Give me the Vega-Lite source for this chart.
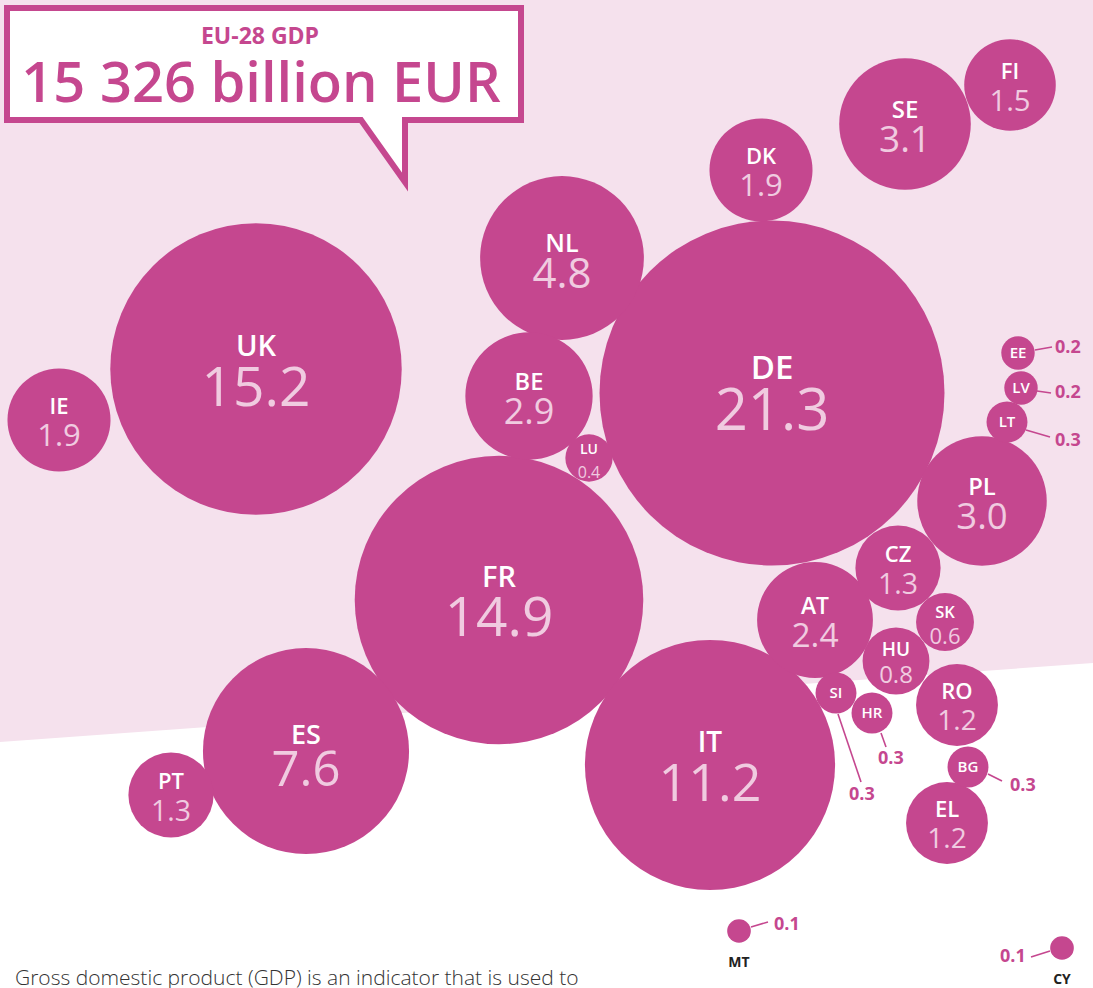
{
  "$schema": "https://vega.github.io/schema/vega-lite/v6.json",
  "width": 1093,
  "height": 988,
  "autosize": "none",
  "padding": 0,
  "background": "white",
  "config": {"view": {"stroke": null}, "font": "Open Sans"},
  "datasets": {
    "countries": [
      {"code": "DE", "value": 21.3, "x": 772, "y": 393},
      {"code": "UK", "value": 15.2, "x": 256, "y": 369},
      {"code": "FR", "value": 14.9, "x": 499, "y": 600},
      {"code": "IT", "value": 11.2, "x": 710, "y": 765},
      {"code": "ES", "value": 7.6, "x": 306, "y": 751},
      {"code": "NL", "value": 4.8, "x": 562, "y": 258},
      {"code": "SE", "value": 3.1, "x": 905, "y": 124},
      {"code": "PL", "value": 3.0, "x": 982, "y": 501},
      {"code": "BE", "value": 2.9, "x": 529, "y": 396},
      {"code": "AT", "value": 2.4, "x": 815, "y": 620},
      {"code": "IE", "value": 1.9, "x": 59, "y": 420},
      {"code": "DK", "value": 1.9, "x": 761, "y": 170},
      {"code": "FI", "value": 1.5, "x": 1010, "y": 85},
      {"code": "CZ", "value": 1.3, "x": 898, "y": 568},
      {"code": "PT", "value": 1.3, "x": 171, "y": 795},
      {"code": "RO", "value": 1.2, "x": 957, "y": 705},
      {"code": "EL", "value": 1.2, "x": 947, "y": 823},
      {"code": "HU", "value": 0.8, "x": 896, "y": 661},
      {"code": "SK", "value": 0.6, "x": 945, "y": 622},
      {"code": "LU", "value": 0.4, "x": 589, "y": 458},
      {"code": "LT", "value": 0.3, "x": 1007, "y": 422},
      {"code": "SI", "value": 0.3, "x": 836, "y": 693},
      {"code": "HR", "value": 0.3, "x": 872, "y": 713},
      {"code": "BG", "value": 0.3, "x": 968, "y": 767},
      {"code": "EE", "value": 0.2, "x": 1018, "y": 353},
      {"code": "LV", "value": 0.2, "x": 1021, "y": 388},
      {"code": "MT", "value": 0.1, "x": 739, "y": 931},
      {"code": "CY", "value": 0.1, "x": 1062, "y": 948}
    ],
    "leaders": [
      {"code": "EE", "value": 0.2, "x1": 1035, "y1": 350, "x2": 1052, "y2": 347, "lx": 1055, "ly": 348},
      {"code": "LV", "value": 0.2, "x1": 1037, "y1": 391, "x2": 1051, "y2": 393, "lx": 1055, "ly": 393},
      {"code": "LT", "value": 0.3, "x1": 1026, "y1": 430, "x2": 1050, "y2": 437, "lx": 1055, "ly": 441},
      {"code": "SI", "value": 0.3, "x1": 838, "y1": 714, "x2": 861, "y2": 782, "lx": 849, "ly": 795},
      {"code": "HR", "value": 0.3, "x1": 881, "y1": 733, "x2": 886, "y2": 747, "lx": 878, "ly": 759},
      {"code": "BG", "value": 0.3, "x1": 988, "y1": 774, "x2": 1002, "y2": 781, "lx": 1010, "ly": 786},
      {"code": "MT", "value": 0.1, "x1": 751, "y1": 927, "x2": 768, "y2": 922, "lx": 774, "ly": 925},
      {"code": "CY", "value": 0.1, "x1": 1050, "y1": 951, "x2": 1031, "y2": 957, "lx": 1000, "ly": 957}
    ]
  },
  "layer": [
    {
      "data": {"values": [{"x": 0, "y": 742}, {"x": 1093, "y": 663}]},
      "mark": {"type": "area", "color": "#f5e1ed", "opacity": 1},
      "encoding": {
        "x": {"field": "x", "type": "quantitative", "scale": {"domain": [0, 1093], "nice": false, "zero": false}, "axis": null},
        "y": {"field": "y", "type": "quantitative", "scale": {"domain": [0, 988], "nice": false, "zero": false, "reverse": true}, "axis": null},
        "y2": {"datum": 0}
      }
    },
    {
      "data": {"values": [
        {"o": 1, "x": 7, "y": 8},
        {"o": 2, "x": 521, "y": 8},
        {"o": 3, "x": 521, "y": 120},
        {"o": 4, "x": 405, "y": 120},
        {"o": 5, "x": 405, "y": 182},
        {"o": 6, "x": 361, "y": 120},
        {"o": 7, "x": 7, "y": 120},
        {"o": 8, "x": 7, "y": 8}
      ]},
      "mark": {"type": "line", "fill": "white", "stroke": "#c5478f", "strokeWidth": 6, "strokeJoin": "miter", "strokeCap": "square"},
      "encoding": {
        "x": {"field": "x", "type": "quantitative", "axis": null},
        "y": {"field": "y", "type": "quantitative", "axis": null},
        "order": {"field": "o", "type": "quantitative"}
      }
    },
    {
      "data": {"values": [{"x": 260, "y": 44, "t": "EU-28 GDP"}]},
      "mark": {"type": "text", "font": "Open Sans", "fontWeight": 700, "fontSize": 23, "color": "#c5478f", "align": "center", "baseline": "alphabetic"},
      "encoding": {
        "x": {"field": "x", "type": "quantitative", "axis": null},
        "y": {"field": "y", "type": "quantitative", "axis": null},
        "text": {"field": "t"}
      }
    },
    {
      "data": {"values": [{"x": 261, "y": 102, "t": "15 326 billion EUR"}]},
      "mark": {"type": "text", "font": "Open Sans", "fontWeight": 600, "fontSize": 56, "color": "#c5478f", "align": "center", "baseline": "alphabetic"},
      "encoding": {
        "x": {"field": "x", "type": "quantitative", "axis": null},
        "y": {"field": "y", "type": "quantitative", "axis": null},
        "text": {"field": "t"}
      }
    },
    {
      "data": {"name": "countries"},
      "mark": {"type": "point", "shape": "circle", "filled": true, "opacity": 1, "color": "#c5478f", "strokeWidth": 0},
      "encoding": {
        "x": {"field": "x", "type": "quantitative", "axis": null},
        "y": {"field": "y", "type": "quantitative", "axis": null},
        "size": {"field": "value", "type": "quantitative", "scale": {"type": "linear", "domain": [0, 21.3], "range": [0, 119025], "zero": true}, "legend": null}
      }
    },
    {
      "data": {"name": "countries"},
      "transform": [{"filter": "datum.value >= 11"}],
      "mark": {"type": "text", "font": "Open Sans", "fontWeight": 600, "color": "white", "align": "center", "baseline": "bottom", "dy": -7},
      "encoding": {
        "x": {"field": "x", "type": "quantitative", "axis": null},
        "y": {"field": "y", "type": "quantitative", "axis": null},
        "size": {"field": "value", "type": "quantitative", "scale": {"type": "linear", "domain": [11.2, 15, 21.3], "range": [28, 29, 33], "clamp": true}, "legend": null},
        "text": {"field": "code"}
      }
    },
    {
      "data": {"name": "countries"},
      "transform": [{"filter": "datum.value >= 0.4 && datum.value < 11"}],
      "mark": {"type": "text", "font": "Open Sans", "fontWeight": 600, "color": "white", "align": "center", "baseline": "bottom", "dy": -1},
      "encoding": {
        "x": {"field": "x", "type": "quantitative", "axis": null},
        "y": {"field": "y", "type": "quantitative", "axis": null},
        "size": {"field": "value", "type": "quantitative", "scale": {"type": "linear", "domain": [0.4, 0.8, 1.2, 1.9, 3.1, 7.6], "range": [14, 19, 22, 22, 24, 27], "clamp": true}, "legend": null},
        "text": {"field": "code"}
      }
    },
    {
      "data": {"name": "countries"},
      "transform": [{"filter": "datum.value >= 7"}],
      "mark": {"type": "text", "font": "Open Sans", "fontWeight": 400, "color": "#f0cbe0", "align": "center", "baseline": "middle", "dy": 20},
      "encoding": {
        "x": {"field": "x", "type": "quantitative", "axis": null},
        "y": {"field": "y", "type": "quantitative", "axis": null},
        "size": {"field": "value", "type": "quantitative", "scale": {"type": "linear", "domain": [7.6, 11.2, 15, 21.3], "range": [49, 52, 55, 58], "clamp": true}, "legend": null},
        "text": {"field": "value", "type": "quantitative", "format": ".1f"}
      }
    },
    {
      "data": {"name": "countries"},
      "transform": [{"filter": "datum.value >= 1 && datum.value < 7"}],
      "mark": {"type": "text", "font": "Open Sans", "fontWeight": 400, "color": "#f0cbe0", "align": "center", "baseline": "middle", "dy": 17},
      "encoding": {
        "x": {"field": "x", "type": "quantitative", "axis": null},
        "y": {"field": "y", "type": "quantitative", "axis": null},
        "size": {"field": "value", "type": "quantitative", "scale": {"type": "linear", "domain": [1.2, 1.9, 3.1, 4.8], "range": [28, 31, 37, 42], "clamp": true}, "legend": null},
        "text": {"field": "value", "type": "quantitative", "format": ".1f"}
      }
    },
    {
      "data": {"name": "countries"},
      "transform": [{"filter": "datum.value >= 0.4 && datum.value < 1"}],
      "mark": {"type": "text", "font": "Open Sans", "fontWeight": 400, "color": "#f0cbe0", "align": "center", "baseline": "middle", "dy": 15},
      "encoding": {
        "x": {"field": "x", "type": "quantitative", "axis": null},
        "y": {"field": "y", "type": "quantitative", "axis": null},
        "size": {"field": "value", "type": "quantitative", "scale": {"type": "linear", "domain": [0.4, 0.6, 0.8], "range": [16, 22, 24], "clamp": true}, "legend": null},
        "text": {"field": "value", "type": "quantitative", "format": ".1f"}
      }
    },
    {
      "data": {"name": "countries"},
      "transform": [{"filter": "datum.value >= 0.2 && datum.value < 0.4"}],
      "mark": {"type": "text", "font": "Open Sans", "fontWeight": 600, "fontSize": 15, "color": "white", "align": "center", "baseline": "middle"},
      "encoding": {
        "x": {"field": "x", "type": "quantitative", "axis": null},
        "y": {"field": "y", "type": "quantitative", "axis": null},
        "text": {"field": "code"}
      }
    },
    {
      "data": {"name": "countries"},
      "transform": [{"filter": "datum.value < 0.2"}],
      "mark": {"type": "text", "font": "Open Sans", "fontWeight": 700, "fontSize": 14, "color": "#222222", "align": "center", "baseline": "middle", "dy": 32},
      "encoding": {
        "x": {"field": "x", "type": "quantitative", "axis": null},
        "y": {"field": "y", "type": "quantitative", "axis": null},
        "text": {"field": "code"}
      }
    },
    {
      "data": {"name": "leaders"},
      "mark": {"type": "rule", "color": "#c5478f", "strokeWidth": 1.6},
      "encoding": {
        "x": {"field": "x1", "type": "quantitative", "axis": null},
        "y": {"field": "y1", "type": "quantitative", "axis": null},
        "x2": {"field": "x2"},
        "y2": {"field": "y2"}
      }
    },
    {
      "data": {"name": "leaders"},
      "mark": {"type": "text", "font": "Open Sans", "fontWeight": 700, "fontSize": 18, "color": "#c5478f", "align": "left", "baseline": "middle"},
      "encoding": {
        "x": {"field": "lx", "type": "quantitative", "axis": null},
        "y": {"field": "ly", "type": "quantitative", "axis": null},
        "text": {"field": "value", "type": "quantitative", "format": ".1f"}
      }
    },
    {
      "data": {"values": [{"x": 15, "y": 985, "t": "Gross domestic product (GDP) is an indicator that is used to"}]},
      "mark": {"type": "text", "font": "Open Sans", "fontWeight": 300, "fontSize": 21, "color": "#333333", "align": "left", "baseline": "alphabetic"},
      "encoding": {
        "x": {"field": "x", "type": "quantitative", "axis": null},
        "y": {"field": "y", "type": "quantitative", "axis": null},
        "text": {"field": "t"}
      }
    }
  ],
  "resolve": {"scale": {"size": "independent"}}
}
